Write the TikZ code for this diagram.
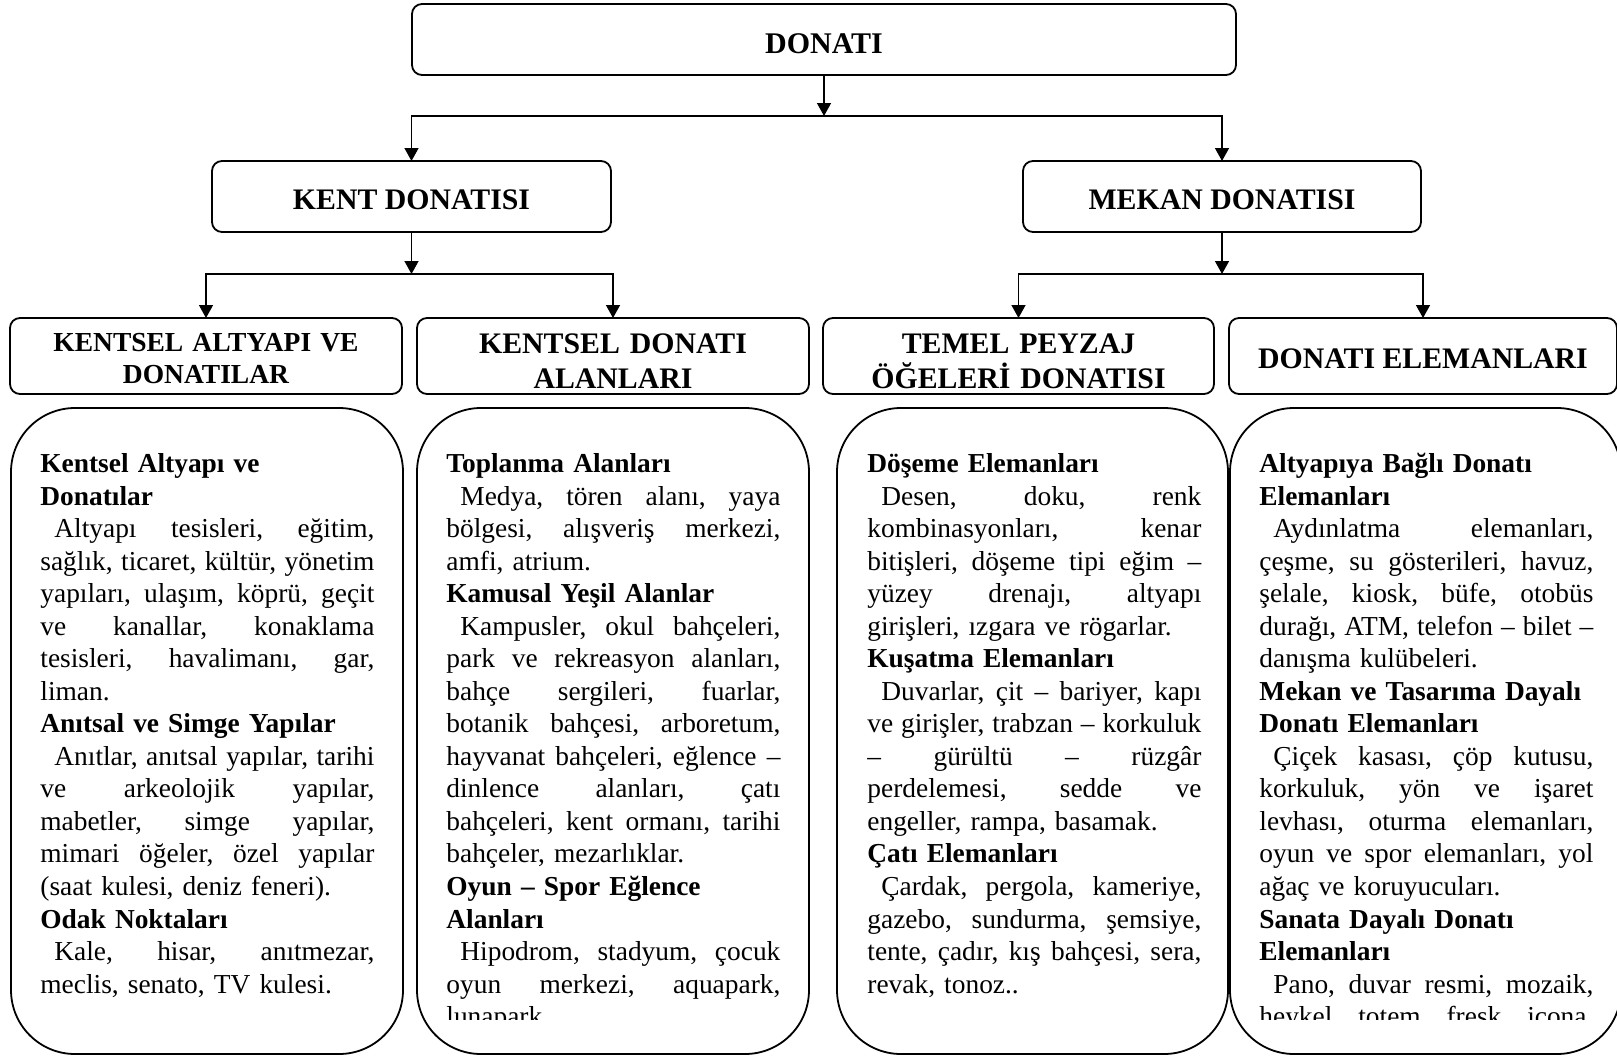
\documentclass[tikz,border=0pt]{standalone}
\usepackage{fontspec}
\setmainfont{Liberation Serif}
\usetikzlibrary{arrows.meta}
\newcommand{\Jl}[1]{\noindent\hbox to 167pt{\frenchspacing\spaceskip=3.42pt plus 1fil\relax #1}\par}
\newcommand{\Rl}[1]{\noindent #1\par}
\newcommand{\Hl}[1]{\noindent\textbf{#1}\par}
\newcommand{\Ind}{\hspace*{7pt}}
\begin{document}
\begin{tikzpicture}[x=0.5pt,y=-0.5pt,
  hbox/.style={draw, line width=0.9pt, rounded corners=5pt, inner sep=0pt, outer sep=0pt},
  cbox/.style={draw, line width=0.9pt, rounded corners=32pt, inner sep=0pt, outer sep=0pt},
  htext/.style={anchor=base, inner sep=0pt, align=center, font={\fontsize{14.9pt}{17.75pt}\selectfont\bfseries}},
  body/.style={anchor=base west, inner sep=0pt, text width=167pt, font={\fontsize{13.7pt}{16.27pt}\selectfont}},
  arr/.style={line width=0.7pt, -{Triangle[length=6.5pt,width=7pt]}}]
\clip (0,0) rectangle (1617,1056);
% header boxes
\node[hbox, minimum width=412pt, minimum height=35.5pt] (top) at (824,39.5) {};
\node[hbox, minimum width=199.5pt, minimum height=35.5pt] (kent) at (411.5,196.5) {};
\node[hbox, minimum width=199pt, minimum height=35.5pt] (mekan) at (1222,196.5) {};
\node[hbox, minimum width=196pt, minimum height=38pt] (h1) at (206,356) {};
\node[hbox, minimum width=196pt, minimum height=38pt] (h2) at (613,356) {};
\node[hbox, minimum width=195.5pt, minimum height=38pt] (h3) at (1018.5,356) {};
\node[hbox, minimum width=194pt, minimum height=38pt] (h4) at (1423,356) {};
% header texts
\node[htext, font={\fontsize{15pt}{18pt}\selectfont\bfseries}] (toptxt) at (824,53.5) {DONATI};
\node[htext] (kenttxt) at (411.5,209) {KENT DONATISI};
\node[htext] (mekantxt) at (1222,209) {MEKAN DONATISI};
\node[htext, font={\fontsize{13.75pt}{15.85pt}\selectfont\bfseries}, text width=190pt] (h1txt) at (206,351.5) {KENTSEL ALTYAPI VE\\DONATILAR};
\node[htext, text width=190pt] (h2txt) at (613,353) {KENTSEL DONATI\\ALANLARI};
\node[htext, text width=190pt] (h3txt) at (1018.5,353) {TEMEL PEYZAJ\\ÖĞELERİ DONATISI};
\node[htext] (h4txt) at (1423,368) {DONATI ELEMANLARI};
% connectors
\coordinate (jtop) at (824,116);
\coordinate (jk) at (411.5,274);
\coordinate (jm) at (1222,274);
\draw[arr] (top.south) -- (jtop);
\draw[arr] (jtop) -| (kent.north);
\draw[arr] (jtop) -| (mekan.north);
\draw[arr] (kent.south) -- (jk);
\draw[arr] (jk) -| (h1.north);
\draw[arr] (jk) -| (h2.north);
\draw[arr] (mekan.south) -- (jm);
\draw[arr] (jm) -| (h3.north);
\draw[arr] (jm) -| (h4.north);
% content boxes
\node[cbox, minimum width=196pt, minimum height=323pt] (c1) at (207,731) {};
\node[cbox, minimum width=196pt, minimum height=323pt] (c2) at (613,731) {};
\node[cbox, minimum width=195.5pt, minimum height=323pt] (c3) at (1032.5,731) {};
\node[cbox, minimum width=195.5pt, minimum height=323pt] (c4) at (1425.5,731) {};
% content texts
\node[body] (t1) at (40,472.5) {%
\Hl{Kentsel Altyapı ve}
\Hl{Donatılar}
\Jl{\Ind Altyapı tesisleri, eğitim,}
\Jl{sağlık, ticaret, kültür, yönetim}
\Jl{yapıları, ulaşım, köprü, geçit}
\Jl{ve kanallar, konaklama}
\Jl{tesisleri, havalimanı, gar,}
\Rl{liman.}
\Hl{Anıtsal ve Simge Yapılar}
\Jl{\Ind Anıtlar, anıtsal yapılar, tarihi}
\Jl{ve arkeolojik yapılar,}
\Jl{mabetler, simge yapılar,}
\Jl{mimari öğeler, özel yapılar}
\Rl{(saat kulesi, deniz feneri).}
\Hl{Odak Noktaları}
\Jl{\Ind Kale, hisar, anıtmezar,}
\Rl{meclis, senato, TV kulesi.}};
\begin{scope}
\clip (418,410) rectangle (808,1019);
\node[body] (t2) at (446,472.5) {%
\Hl{Toplanma Alanları}
\Jl{\Ind Medya, tören alanı, yaya}
\Jl{bölgesi, alışveriş merkezi,}
\Rl{amfi, atrium.}
\Hl{Kamusal Yeşil Alanlar}
\Jl{\Ind Kampusler, okul bahçeleri,}
\Jl{park ve rekreasyon alanları,}
\Jl{bahçe sergileri, fuarlar,}
\Jl{botanik bahçesi, arboretum,}
\Jl{hayvanat bahçeleri, eğlence –}
\Jl{dinlence alanları, çatı}
\Jl{bahçeleri, kent ormanı, tarihi}
\Rl{bahçeler, mezarlıklar.}
\Hl{Oyun – Spor Eğlence}
\Hl{Alanları}
\Jl{\Ind Hipodrom, stadyum, çocuk}
\Jl{oyun merkezi, aquapark,}
\Rl{lunapark.}};
\end{scope}
\node[body] (t3) at (867,472.5) {%
\Hl{Döşeme Elemanları}
\Jl{\Ind Desen, doku, renk}
\Jl{kombinasyonları, kenar}
\Jl{bitişleri, döşeme tipi eğim –}
\Jl{yüzey drenajı, altyapı}
\Rl{girişleri, ızgara ve rögarlar.}
\Hl{Kuşatma Elemanları}
\Jl{\Ind Duvarlar, çit – bariyer, kapı}
\Jl{ve girişler, trabzan – korkuluk}
\Jl{– gürültü – rüzgâr}
\Jl{perdelemesi, sedde ve}
\Rl{engeller, rampa, basamak.}
\Hl{Çatı Elemanları}
\Jl{\Ind Çardak, pergola, kameriye,}
\Jl{gazebo, sundurma, şemsiye,}
\Jl{tente, çadır, kış bahçesi, sera,}
\Rl{revak, tonoz..}};
\begin{scope}
\clip (1231,410) rectangle (1617,1019);
\node[body] (t4) at (1259,472.5) {%
\Hl{Altyapıya Bağlı Donatı}
\Hl{Elemanları}
\Jl{\Ind Aydınlatma elemanları,}
\Jl{çeşme, su gösterileri, havuz,}
\Jl{şelale, kiosk, büfe, otobüs}
\Jl{durağı, ATM, telefon – bilet –}
\Rl{danışma kulübeleri.}
\Hl{Mekan ve Tasarıma Dayalı}
\Hl{Donatı Elemanları}
\Jl{\Ind Çiçek kasası, çöp kutusu,}
\Jl{korkuluk, yön ve işaret}
\Jl{levhası, oturma elemanları,}
\Jl{oyun ve spor elemanları, yol}
\Rl{ağaç ve koruyucuları.}
\Hl{Sanata Dayalı Donatı}
\Hl{Elemanları}
\Jl{\Ind Pano, duvar resmi, mozaik,}
\Jl{heykel, totem, fresk, icona,}};
\end{scope}
\end{tikzpicture}
\end{document}
